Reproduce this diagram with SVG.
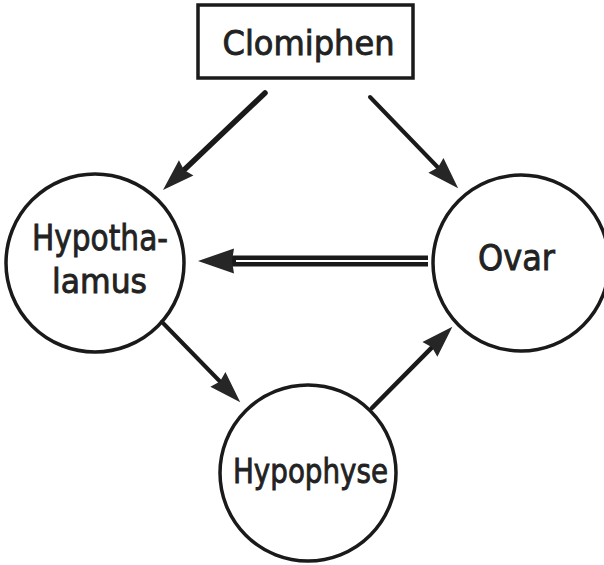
<svg xmlns="http://www.w3.org/2000/svg" width="604" height="565" viewBox="0 0 604 565">
  <style>
    .node { fill: #ffffff; stroke: #1a1a1a; stroke-width: 3.5; }
    .label { font-family: "DejaVu Sans", "Liberation Sans", sans-serif; fill: #222222; stroke: #222222; stroke-width: 0.9; text-anchor: middle; }
    .shaft { stroke: #1a1a1a; fill: none; stroke-linecap: round; }
  </style>
  <defs>
    <marker id="head" markerUnits="userSpaceOnUse" orient="auto" refX="0" refY="0" overflow="visible">
      <path d="M0,0 L-3,-10.5 L29,0 L-3,10.5 Z" fill="#262626"/>
    </marker>
    <marker id="headBig" markerUnits="userSpaceOnUse" orient="auto" refX="0" refY="0" overflow="visible">
      <path d="M0,0 L-2,-12.5 L34,0 L-2,12.5 Z" fill="#262626"/>
    </marker>
  </defs>

  <g id="clomiphen">
    <rect class="node" x="198" y="5" width="215" height="73"/>
    <text class="label" x="308.5" y="55" font-size="34" textLength="172" lengthAdjust="spacingAndGlyphs">Clomiphen</text>
  </g>

  <g id="hypothalamus">
    <circle class="node" cx="95" cy="263" r="89"/>
    <text class="label" x="100" y="250" font-size="36" textLength="136" lengthAdjust="spacingAndGlyphs">Hypotha-</text>
    <text class="label" x="99.5" y="293" font-size="33" textLength="95" lengthAdjust="spacingAndGlyphs">lamus</text>
  </g>

  <g id="ovar">
    <circle class="node" cx="521" cy="263" r="88"/>
    <text class="label" x="516.5" y="270" font-size="36" textLength="77" lengthAdjust="spacingAndGlyphs">Ovar</text>
  </g>

  <g id="hypophyse">
    <circle class="node" cx="308" cy="473" r="88"/>
    <text class="label" x="310.5" y="483" font-size="34" textLength="155" lengthAdjust="spacingAndGlyphs">Hypophyse</text>
  </g>

  <g id="connectors">
    <line class="shaft" x1="265" y1="93" x2="184" y2="170" stroke-width="5.5" marker-end="url(#head)"/>
    <line class="shaft" x1="370" y1="97" x2="438" y2="167.5" stroke-width="4" marker-end="url(#head)"/>
    <line class="shaft" x1="162" y1="322" x2="220" y2="381.5" stroke-width="4" marker-end="url(#head)"/>
    <line class="shaft" x1="372" y1="408" x2="432" y2="347.3" stroke-width="4.5" marker-end="url(#head)"/>
    <!-- double-line feedback arrow -->
    <line x1="428" y1="261" x2="232" y2="261" stroke="#1a1a1a" stroke-width="11" marker-end="url(#headBig)"/>
    <line x1="428" y1="261" x2="236" y2="261" stroke="#ffffff" stroke-width="1.8"/>
  </g>
</svg>
